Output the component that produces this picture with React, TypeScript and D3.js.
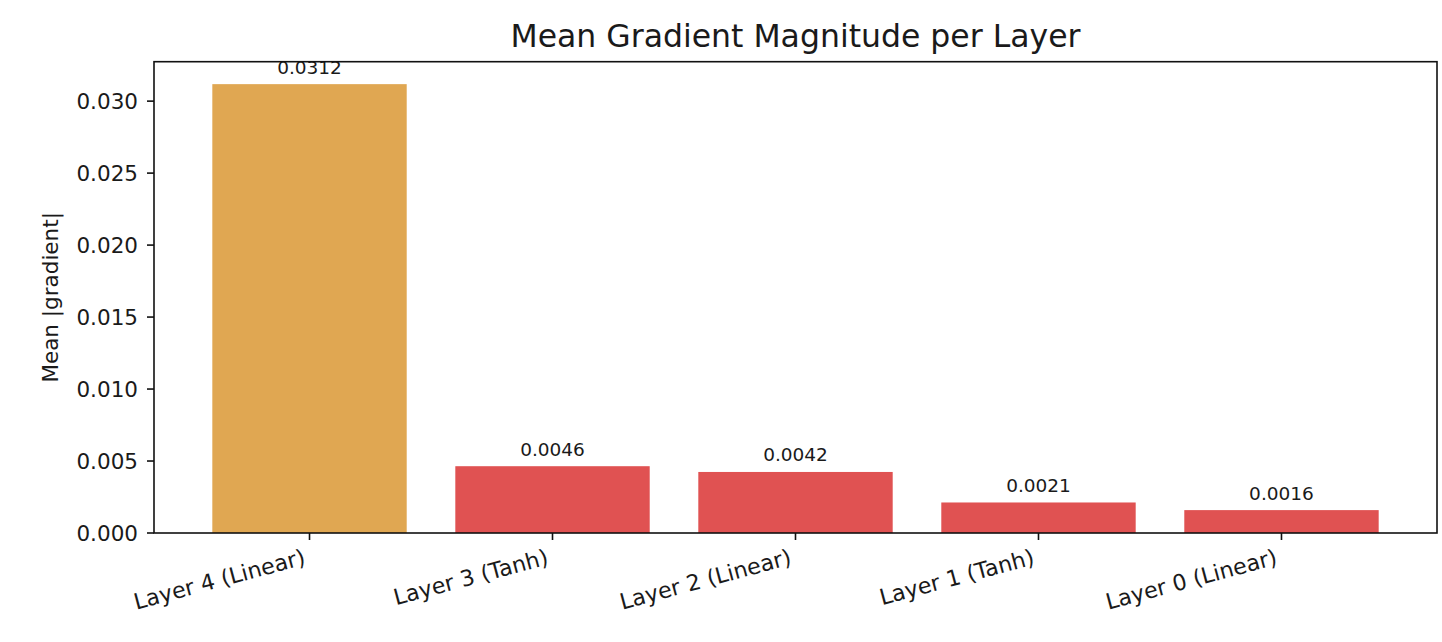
import React from "react";
import * as d3 from "d3";

const categories = ["Layer 4 (Linear)", "Layer 3 (Tanh)", "Layer 2 (Linear)", "Layer 1 (Tanh)", "Layer 0 (Linear)"];
const values = [0.03118, 0.00464, 0.00424, 0.00212, 0.00159];
const barColors = ["#e0a752", "#e05252", "#e05252", "#e05252", "#e05252"];
const yTicks = [0, 0.005, 0.01, 0.015, 0.02, 0.025, 0.03];
const title = "Mean Gradient Magnitude per Layer";
const yLabel = "Mean |gradient|";

const W = 1442;
const H = 642;
const M = { left: 154, right: 1437, top: 61.7, bottom: 533 };
const FONT = "'DejaVu Sans', sans-serif";

export default function App() {
  const x = d3
    .scaleBand<string>()
    .domain(categories)
    .range([M.left, M.right])
    .paddingInner(0.2)
    .paddingOuter(0.24)
    .align(0.5);
  const yMax = (d3.max(values) as number) * 1.05;
  const y = d3.scaleLinear().domain([0, yMax]).range([M.bottom, M.top]);
  const fmt = d3.format(".3f");

  return (
    <svg
      width={W}
      height={H}
      style={{ position: "absolute", left: 0, top: 0, background: "#fff" }}
      fontFamily={FONT}
    >
      <rect x={0} y={0} width={W} height={H} fill="#fff" />
      {categories.map((c, i) => (
        <rect
          key={c}
          x={x(c)}
          y={y(values[i])}
          width={x.bandwidth()}
          height={y(0) - y(values[i])}
          fill={barColors[i]}
        />
      ))}
      {categories.map((c, i) => (
        <text
          key={"v" + c}
          x={(x(c) as number) + x.bandwidth() / 2}
          y={y(values[i]) - 10.5}
          textAnchor="middle"
          fontSize={18.5}
          fill="#1a1a1a"
        >
          {values[i].toFixed(4)}
        </text>
      ))}
      {/* axes frame */}
      <rect
        x={M.left}
        y={M.top}
        width={M.right - M.left}
        height={M.bottom - M.top}
        fill="none"
        stroke="#111"
        strokeWidth={1.6}
      />
      {/* y ticks */}
      {yTicks.map((t) => (
        <g key={"y" + t}>
          <line x1={M.left - 7} x2={M.left} y1={y(t)} y2={y(t)} stroke="#111" strokeWidth={1.6} />
          <text
            x={M.left - 16}
            y={y(t)}
            dy="0.36em"
            textAnchor="end"
            fontSize={21.5}
            fill="#1a1a1a"
          >
            {fmt(t)}
          </text>
        </g>
      ))}
      {/* x ticks */}
      {categories.map((c) => {
        const cx = (x(c) as number) + x.bandwidth() / 2;
        return (
          <g key={"x" + c}>
            <line x1={cx} x2={cx} y1={M.bottom} y2={M.bottom + 7} stroke="#111" strokeWidth={1.6} />
            <text
              transform={`translate(${cx - 3},${M.bottom + 31}) rotate(-15)`}
              textAnchor="end"
              fontSize={22.2}
              fill="#1a1a1a"
            >
              {c}
            </text>
          </g>
        );
      })}
      <text
        transform={`translate(57.5,${(M.top + M.bottom) / 2}) rotate(-90)`}
        textAnchor="middle"
        fontSize={21.5}
        fill="#1a1a1a"
      >
        {yLabel}
      </text>
      <text
        x={(M.left + M.right) / 2}
        y={47}
        textAnchor="middle"
        fontSize={31.5}
        fill="#1a1a1a"
      >
        {title}
      </text>
    </svg>
  );
}
